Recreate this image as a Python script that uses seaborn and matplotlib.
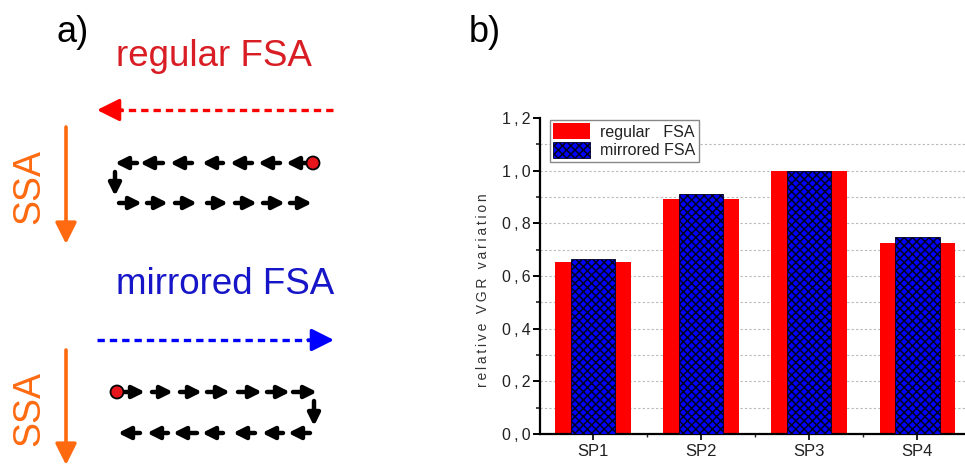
import matplotlib
matplotlib.use("Agg")
import matplotlib.pyplot as plt
from matplotlib.patches import Patch, Circle
from matplotlib.ticker import MultipleLocator, FixedLocator, FuncFormatter
import seaborn as sns

# ---- data -------------------------------------------------------------
categories = ["SP1", "SP2", "SP3", "SP4"]
regular_fsa = [0.652, 0.891, 1.000, 0.727]
mirrored_fsa = [0.666, 0.911, 1.000, 0.749]
series_labels = ["regular   FSA", "mirrored FSA"]
y_ticks = [0.0, 0.2, 0.4, 0.6, 0.8, 1.0, 1.2]

sns.set_theme(style="white")
plt.rcParams["font.family"] = ["Liberation Sans", "DejaVu Sans"]
plt.rcParams["hatch.linewidth"] = 1.1

RED = "#ff0000"
BLUE = "#0000ff"
ORANGE = "#ff6a10"
TXT_RED = "#d81e24"
TXT_BLUE = "#1616c8"
THIN = "\u2009"

fig = plt.figure(figsize=(9.65, 4.66), dpi=100)

# ---- panel b: bar chart ----------------------------------------------
ax = fig.add_axes([540 / 965, 32 / 466, 425 / 965, 316 / 466])
sns.barplot(x=categories, y=regular_fsa, color=RED, width=0.70,
            saturation=1, edgecolor="none", linewidth=0, ax=ax, zorder=2)
sns.barplot(x=categories, y=mirrored_fsa, color=BLUE, width=0.41,
            saturation=1, edgecolor="#000022", linewidth=0.6, hatch="xxxx",
            ax=ax, zorder=3)

ax.set_xlim(-0.49, 3.44)
ax.set_ylim(0, 1.2)
ax.yaxis.set_major_locator(FixedLocator(y_ticks))
ax.yaxis.set_minor_locator(MultipleLocator(0.1))
ax.yaxis.set_major_formatter(
    FuncFormatter(lambda v, p: (THIN + "," + THIN).join(f"{v:.1f}".split("."))))
ax.xaxis.set_minor_locator(FixedLocator([0.5, 1.5, 2.5]))

ax.grid(False)
for v in [0.1 * k for k in range(1, 12)]:
    ax.axhline(v, color="#b8b8b8", lw=0.8, ls=(0, (2, 2)), zorder=1)

for side in ["top", "right"]:
    ax.spines[side].set_visible(False)
for side in ["left", "bottom"]:
    ax.spines[side].set_color("black")
    ax.spines[side].set_linewidth(1.6)

ax.tick_params(axis="y", which="major", direction="out", length=5, width=1.4,
               left=True, labelsize=11.5, colors="black", pad=2)
ax.tick_params(axis="y", which="minor", direction="out", length=3, width=1.2, left=True)
ax.tick_params(axis="x", which="major", direction="out", length=4, width=1.2,
               bottom=True, labelsize=12, pad=3, colors="black")
ax.tick_params(axis="x", which="minor", direction="out", length=2.5, width=1.0, bottom=True)
for lbl in ax.get_xticklabels() + ax.get_yticklabels():
    lbl.set_color("#222222")
ax.set_xlabel("")
ax.set_ylabel(THIN.join("relative VGR variation"), fontsize=10, color="#333333")
ax.yaxis.set_label_coords(-0.118, 0.456)

handles = [Patch(facecolor=RED, edgecolor="none"),
           Patch(facecolor=BLUE, edgecolor="#000022", hatch="xxxx", linewidth=0.6)]
leg = ax.legend(handles, series_labels, loc="upper left", bbox_to_anchor=(0.023, 0.994),
                frameon=True, fancybox=False, framealpha=1, edgecolor="#888888",
                fontsize=11.5, handlelength=2.3, handleheight=1.15, handletextpad=0.65,
                labelspacing=0.12, borderpad=0.22, borderaxespad=0.0)
leg.get_frame().set_linewidth(1.0)
for t in leg.get_texts():
    t.set_color("#222222")

# ---- overlay in pixel space: panel labels and scan-path diagram ------
ov = fig.add_axes([0, 0, 1, 1], zorder=5)
ov.set_xlim(0, 965)
ov.set_ylim(466, 0)
ov.axis("off")
ov.patch.set_alpha(0)

ov.text(56, 32, "a)", fontsize=26, va="center", ha="left", color="black")
ov.text(469, 32, "b)", fontsize=26, va="center", ha="left", color="black")

ov.text(214, 57, "regular FSA", fontsize=26.5, color=TXT_RED, ha="center", va="center")
ov.text(225, 284, "mirrored FSA", fontsize=26.5, color=TXT_BLUE, ha="center", va="center")

for yc in (186, 408):
    ov.text(29, yc, "SSA", fontsize=27, color=ORANGE, rotation=90,
            ha="center", va="center")


def arrow(x0, y0, x1, y1, color="black", lw=3.2, ms=18, ls="-"):
    ov.annotate("", xy=(x1, y1), xytext=(x0, y0),
                arrowprops=dict(arrowstyle="-|>", color=color, lw=lw,
                                mutation_scale=ms, linestyle=ls,
                                shrinkA=0, shrinkB=0))


# dashed fast-scan direction arrows
ov.plot([333, 118], [110, 110], color=RED, lw=2.4, ls=(0, (2.2, 1.5)))
arrow(122, 110, 97, 110, color=RED, lw=2.4, ms=34)
ov.plot([97, 312], [340, 340], color=BLUE, lw=2.4, ls=(0, (2.2, 1.5)))
arrow(308, 340, 334, 340, color=BLUE, lw=2.4, ms=34)

# slow-scan direction arrows
arrow(66, 127, 66, 244, color=ORANGE, lw=2.6, ms=32)
arrow(66, 350, 66, 465, color=ORANGE, lw=2.6, ms=32)

# scan path steps
row1 = [(308, 286), (280, 258), (252, 230), (223, 202), (192, 170), (163, 140), (137, 115)]
row2 = [(119, 142), (147, 168), (175, 197), (207, 228), (235, 257), (263, 285), (290, 312)]
row3 = [(123, 145), (152, 173), (180, 202), (207, 230), (238, 262), (267, 290), (293, 317)]
row4 = [(310, 288), (283, 262), (255, 233), (223, 202), (197, 173), (168, 147), (140, 118)]
for segs, yy in ((row1, 163), (row2, 203), (row3, 392), (row4, 433)):
    for a, b in segs:
        arrow(a, yy, b, yy)
arrow(115, 172, 115, 196)
arrow(314, 401, 314, 426)

for cx, cy in ((313, 163), (117, 392)):
    ov.add_patch(Circle((cx, cy), 6.5, facecolor="#e8141c", edgecolor="black", lw=1.3, zorder=6))

fig.savefig("out.png", dpi=100)
